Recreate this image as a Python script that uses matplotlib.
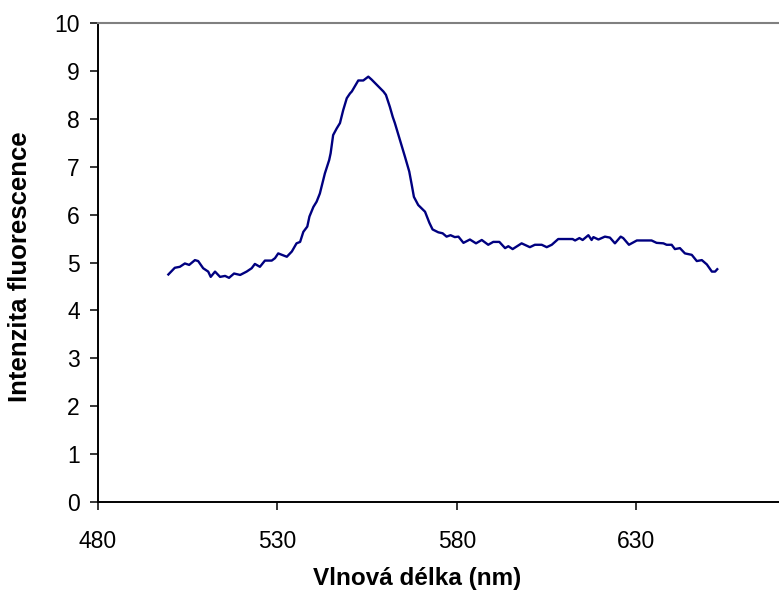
import matplotlib
matplotlib.use("Agg")
import matplotlib.pyplot as plt

plt.rcParams['font.family'] = ['Liberation Sans', 'DejaVu Sans']

# spectrum (nm, fluorescence intensity)
wavelength = [499.6, 501.4, 502.8, 504.2, 505.4, 507.0, 507.9, 509.3, 510.7, 511.4,
              512.6, 514.0, 515.4, 516.5, 517.9, 519.6, 521.4, 522.8, 523.7, 525.1,
              526.5, 528.4, 529.3, 530.2, 532.6, 534.0, 535.3, 536.3, 537.2, 538.3,
              538.9, 540.0, 540.9, 541.8, 543.2, 544.4, 544.8, 545.5, 546.5, 547.4,
              548.3, 549.3, 550.2, 550.7, 552.5, 553.9, 555.3, 556.2, 559.5, 560.2,
              561.3, 562.1, 562.7, 564.1, 565.5, 566.7, 567.4, 568.0, 569.2, 571.1,
              572.3, 573.2, 574.8, 576.0, 577.1, 578.2, 579.4, 580.4, 581.8, 583.6,
              585.3, 586.9, 588.7, 590.1, 591.8, 593.4, 594.3, 595.5, 598.0, 600.3,
              601.7, 603.6, 605.0, 606.4, 608.2, 611.0, 612.2, 612.9, 614.1, 615.0,
              616.6, 617.5, 618.0, 619.4, 621.2, 622.6, 624.0, 625.6, 626.3, 627.9,
              630.1, 634.2, 635.6, 637.5, 638.4, 639.8, 640.7, 642.1, 643.5, 645.4,
              646.8, 648.2, 649.6, 651.0, 651.9, 652.5]
intensity = [4.75, 4.89, 4.91, 4.98, 4.95, 5.05, 5.03, 4.88, 4.81, 4.70,
             4.81, 4.70, 4.72, 4.68, 4.77, 4.74, 4.81, 4.88, 4.97, 4.91,
             5.04, 5.04, 5.09, 5.19, 5.12, 5.23, 5.40, 5.43, 5.64, 5.75,
             5.96, 6.16, 6.27, 6.44, 6.86, 7.14, 7.28, 7.66, 7.80, 7.91,
             8.18, 8.43, 8.53, 8.57, 8.80, 8.80, 8.88, 8.82, 8.57, 8.50,
             8.25, 8.04, 7.91, 7.56, 7.21, 6.90, 6.62, 6.37, 6.20, 6.06,
             5.83, 5.69, 5.63, 5.61, 5.54, 5.57, 5.53, 5.54, 5.41, 5.48,
             5.40, 5.47, 5.37, 5.43, 5.43, 5.30, 5.34, 5.28, 5.40, 5.32,
             5.37, 5.37, 5.32, 5.37, 5.49, 5.49, 5.49, 5.46, 5.51, 5.47,
             5.57, 5.47, 5.53, 5.48, 5.54, 5.52, 5.40, 5.54, 5.51, 5.37,
             5.46, 5.46, 5.41, 5.40, 5.37, 5.37, 5.28, 5.30, 5.19, 5.16,
             5.03, 5.05, 4.96, 4.81, 4.81, 4.86]

x_ticks = [480, 530, 580, 630]
y_ticks = list(range(0, 11))

fig = plt.figure(figsize=(7.79, 6.03), dpi=100)
ax = fig.add_axes([98/779, 101/603, 681/779, 479/603])

ax.plot(wavelength, intensity, color='#000080', lw=1.7)

ax.set_xlim(480, 669.7)
ax.set_ylim(0, 10)
ax.set_xticks(x_ticks)
ax.set_yticks(y_ticks)

ax.spines['right'].set_visible(False)
ax.spines['top'].set_color('#808080')
ax.spines['top'].set_linewidth(1.5)
ax.spines['left'].set_linewidth(1.4)
ax.spines['bottom'].set_linewidth(1.4)

ax.tick_params(axis='both', direction='out', length=6, width=1.1, labelsize=16.5)
ax.tick_params(axis='x', pad=14)
ax.tick_params(axis='y', pad=7)

ax.set_xlabel('Vlnová délka (nm)', fontsize=17.5, fontweight='bold')
ax.set_ylabel('Intenzita fluorescence', fontsize=18.5, fontweight='bold')
ax.xaxis.set_label_coords((417 - 98) / 681, -(578 - 502) / 479)
ax.yaxis.set_label_coords(-(98 - 20) / 681, (502 - 267) / 479)
ax.xaxis.label.set_va('center')
ax.yaxis.label.set_va('center')

fig.savefig('out.png', dpi=100)
